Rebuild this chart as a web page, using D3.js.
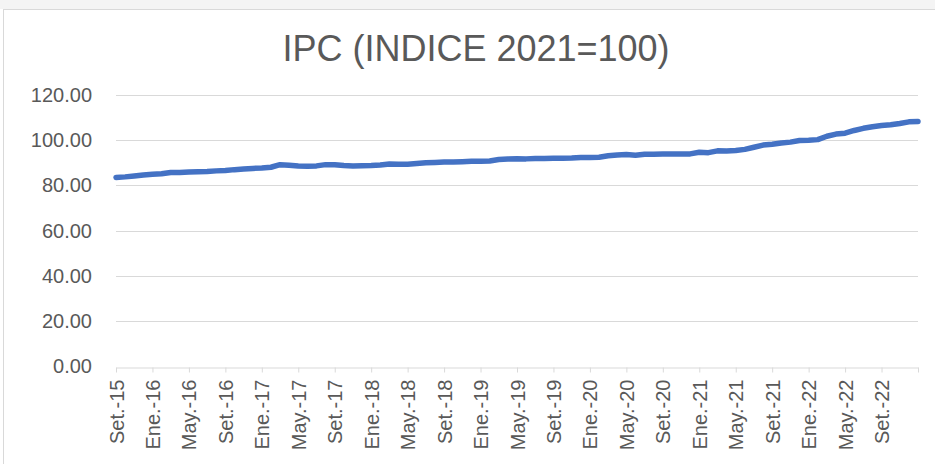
<!DOCTYPE html>
<html>
<head>
<meta charset="utf-8">
<title>IPC (INDICE 2021=100)</title>
<script src="https://cdn.jsdelivr.net/npm/d3@7"></script>
<style>
  body { margin: 0; background: #fff; }
  text { font-family: "Liberation Sans", Arial, sans-serif; fill: #595959; }
</style>
</head>
<body>
<div id="chart"></div>
<script>
// months, Set.-15 .. Ene.-23
var months = [
  "Set.-15","Oct.-15","Nov.-15","Dic.-15",
  "Ene.-16","Feb.-16","Mar.-16","Abr.-16","May.-16","Jun.-16","Jul.-16","Ago.-16","Set.-16","Oct.-16","Nov.-16","Dic.-16",
  "Ene.-17","Feb.-17","Mar.-17","Abr.-17","May.-17","Jun.-17","Jul.-17","Ago.-17","Set.-17","Oct.-17","Nov.-17","Dic.-17",
  "Ene.-18","Feb.-18","Mar.-18","Abr.-18","May.-18","Jun.-18","Jul.-18","Ago.-18","Set.-18","Oct.-18","Nov.-18","Dic.-18",
  "Ene.-19","Feb.-19","Mar.-19","Abr.-19","May.-19","Jun.-19","Jul.-19","Ago.-19","Set.-19","Oct.-19","Nov.-19","Dic.-19",
  "Ene.-20","Feb.-20","Mar.-20","Abr.-20","May.-20","Jun.-20","Jul.-20","Ago.-20","Set.-20","Oct.-20","Nov.-20","Dic.-20",
  "Ene.-21","Feb.-21","Mar.-21","Abr.-21","May.-21","Jun.-21","Jul.-21","Ago.-21","Set.-21","Oct.-21","Nov.-21","Dic.-21",
  "Ene.-22","Feb.-22","Mar.-22","Abr.-22","May.-22","Jun.-22","Jul.-22","Ago.-22","Set.-22","Oct.-22","Nov.-22","Dic.-22",
  "Ene.-23"
];
// IPC index values
var ipc = [
  83.50, 83.75, 84.15, 84.60,
  84.95, 85.10, 85.65, 85.70, 85.90, 86.00, 86.10, 86.40, 86.60, 86.95, 87.20, 87.50,
  87.70, 88.00, 89.15, 88.90, 88.55, 88.40, 88.60, 89.15, 89.15, 88.75, 88.55, 88.70,
  88.80, 89.00, 89.45, 89.35, 89.35, 89.65, 90.00, 90.15, 90.30, 90.35, 90.45, 90.60,
  90.70, 90.80, 91.45, 91.65, 91.80, 91.70, 91.90, 91.90, 91.95, 92.00, 92.10, 92.30,
  92.35, 92.45, 93.05, 93.40, 93.60, 93.35, 93.75, 93.70, 93.80, 93.85, 93.85, 93.90,
  94.60, 94.45, 95.25, 95.15, 95.40, 95.90, 96.85, 97.80, 98.20, 98.75, 99.10, 99.85,
  99.90, 100.20, 101.70, 102.65, 103.05, 104.25, 105.20, 105.90, 106.45, 106.80, 107.35, 108.05,
  108.25
];
var yTicks = [0, 20, 40, 60, 80, 100, 120];
var labelStep = 4;

var W = 935, H = 464;
var plotL = 116, plotR = 918, plotT = 94.8, plotB = 366.5;

var svg = d3.select("#chart").append("svg")
  .attr("width", W).attr("height", H);

// chart frame
svg.append("rect").attr("x", 0).attr("y", 0).attr("width", W).attr("height", 9)
  .attr("fill", "#f4f4f4");
svg.append("rect").attr("x", 3.5).attr("y", 9.5).attr("width", W + 10).attr("height", H + 10)
  .attr("fill", "#fff").attr("stroke", "#d9d9d9");

svg.append("text")
  .attr("x", 476).attr("y", 61)
  .attr("text-anchor", "middle")
  .style("font-size", "36px")
  .text("IPC (INDICE 2021=100)");

var x = d3.scalePoint().domain(months).range([plotL, plotR]);
var y = d3.scaleLinear().domain([0, 120]).range([plotB, plotT]);

// gridlines
svg.append("g").selectAll("line")
  .data(yTicks.filter(function(d){ return d > 0; }))
  .enter().append("line")
  .attr("x1", plotL).attr("x2", plotR)
  .attr("y1", function(d){ return Math.round(y(d)) + 0.5; })
  .attr("y2", function(d){ return Math.round(y(d)) + 0.5; })
  .attr("stroke", "#d9d9d9");

// y axis labels
var yAxis = svg.append("g")
  .attr("transform", "translate(" + plotL + ",0)")
  .call(d3.axisLeft(y).tickValues(yTicks).tickSize(0).tickPadding(24)
    .tickFormat(function(d){ return d.toFixed(2); }));
yAxis.select(".domain").remove();
yAxis.selectAll("text").style("font-size", "20px").style("fill", "#595959");

// x axis
var xTickVals = months.filter(function(d, i){ return i % labelStep === 0; });
var xAxis = svg.append("g")
  .attr("transform", "translate(0," + (Math.round(plotB) + 0.5) + ")")
  .call(d3.axisBottom(x).tickValues(xTickVals).tickSizeInner(5).tickSizeOuter(0)
    .tickFormat(function(d){ return d === months[months.length - 1] ? "" : d; }));
xAxis.select(".domain").attr("stroke", "#d9d9d9");
xAxis.selectAll(".tick line").attr("stroke", "#d9d9d9");
xAxis.selectAll("text")
  .style("font-size", "20px").style("fill", "#595959")
  .attr("transform", "rotate(-90)")
  .attr("x", -12).attr("y", 0).attr("dy", "0.35em")
  .style("text-anchor", "end");

// series
var line = d3.line()
  .x(function(d, i){ return x(months[i]); })
  .y(function(d){ return y(d); });

svg.append("path")
  .datum(ipc)
  .attr("d", line)
  .attr("fill", "none")
  .attr("stroke", "#4472c4")
  .attr("stroke-width", 5.5)
  .attr("stroke-linejoin", "round")
  .attr("stroke-linecap", "round");
</script>
</body>
</html>
